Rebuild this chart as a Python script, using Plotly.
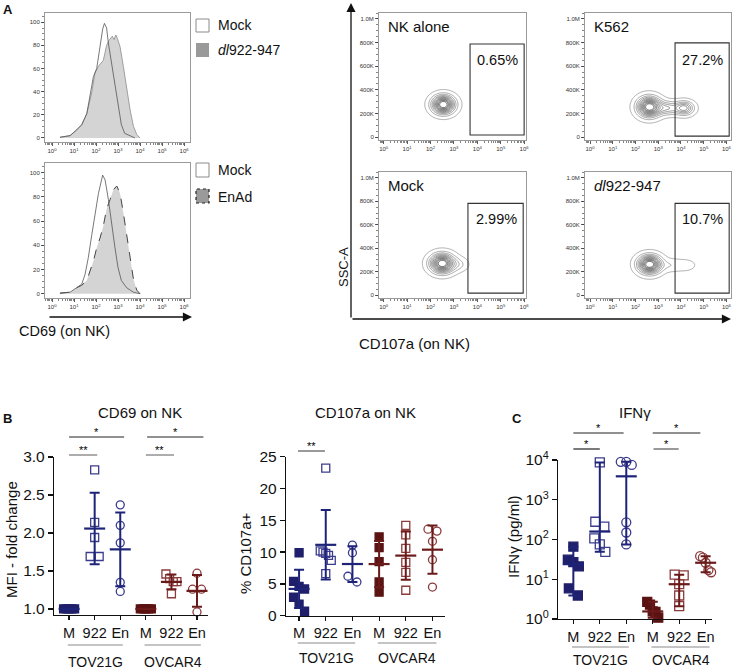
import numpy as np
import plotly.graph_objects as go

W, H = 734, 669
def fx(p): return p / W
def fy(p): return 1 - p / H

FONT = "Arial, Liberation Sans, Helvetica, sans-serif"

# ---------------- DATA ----------------
# Panel A histograms: CD69 intensity (log10 decades) vs % of max
hist1_dl_x = [0.36, 0.82, 1.12, 1.35, 1.58, 1.80, 1.95, 2.11, 2.33, 2.48, 2.58, 2.66, 2.74, 2.82, 2.90, 2.97, 3.09, 3.24, 3.39, 3.55, 3.70, 3.85, 4.00]
hist1_dl_y = [0.6, 2, 7, 11.5, 21, 39, 56, 62, 67, 80, 84, 86, 88, 85, 89, 86, 79, 62, 42, 24, 10, 3, 0]
hist1_mock_x = [0.36, 0.82, 1.12, 1.35, 1.58, 1.73, 1.88, 2.03, 2.18, 2.30, 2.38, 2.48, 2.56, 2.71, 2.86, 3.00, 3.15, 3.30, 3.55, 3.77]
hist1_mock_y = [0.6, 2, 7, 11.5, 21, 36, 53, 60, 80, 94, 99, 95, 82, 64, 44, 27, 11.5, 4, 2, 0]

hist2_en_x = [0.36, 0.82, 1.12, 1.35, 1.58, 1.73, 1.88, 2.03, 2.18, 2.33, 2.48, 2.64, 2.79, 2.94, 3.09, 3.24, 3.39, 3.55, 3.70, 3.85, 4.00]
hist2_en_y = [0.5, 1.3, 5, 7, 11, 19, 27, 38, 46, 56, 70, 78, 86, 89, 83, 67, 48, 27, 12, 3, 0]
hist2_mock_x = [0.36, 0.82, 1.12, 1.35, 1.50, 1.65, 1.80, 1.95, 2.11, 2.30, 2.41, 2.56, 2.71, 2.86, 3.00, 3.15, 3.39, 3.70, 4.00]
hist2_mock_y = [0.5, 1.3, 5, 8, 16, 30, 48, 67, 83, 98, 94, 78, 56, 38, 21.5, 11, 5, 1.3, 0]

# Panel A contour populations: (log10 CD107a centre, SSC-A centre, log10 sd, SSC sd, weight)
blobs_nk = [(2.55, 275e3, 0.30, 48e3, 1.0)]
blobs_k562 = [(2.60, 255e3, 0.32, 52e3, 1.0), (3.40, 245e3, 0.35, 36e3, 0.35), (4.15, 245e3, 0.26, 36e3, 0.5)]
blobs_mock = [(2.50, 270e3, 0.32, 50e3, 1.0), (3.20, 262e3, 0.26, 36e3, 0.12)]
blobs_dl = [(2.62, 262e3, 0.32, 48e3, 1.0), (3.60, 255e3, 0.36, 34e3, 0.10), (4.25, 255e3, 0.26, 30e3, 0.07), (-0.45, 255e3, 0.15, 30e3, 0.08)]
flow_names = ["NK alone", "K562", "Mock", "<i>dl</i>922-947"]
flow_pcts = ["0.65%", "27.2%", "2.99%", "10.7%"]
gate_x0 = [3.69, 3.74, 3.60, 3.74]
gate_x1 = [6.00, 6.12, 5.96, 6.12]
gate_y0 = [17e3, 8e3, 17e3, 17e3]
gate_y1 = [788e3, 797e3, 782e3, 782e3]

# Panel B / C
cats = ["M", "922", "En", "M", "922", "En"]
cell_lines = ["TOV21G", "OVCAR4"]

cd69_tov_M = [1.0, 1.0, 1.0, 1.0, 1.0]
cd69_tov_922 = [2.83, 2.14, 1.94, 1.69, 1.69]
cd69_tov_En = [2.37, 2.10, 1.87, 1.35, 1.23]
cd69_ov_M = [1.0, 1.0, 1.0, 1.0, 1.0]
cd69_ov_922 = [1.46, 1.40, 1.36, 1.36, 1.20]
cd69_ov_En = [1.47, 1.26, 1.26, 0.96]

cd107_tov_M = [9.9, 5.4, 4.6, 4.2, 2.9, 1.8, 0.7]
cd107_tov_922 = [23.2, 10.2, 10.0, 9.8, 9.5, 8.7, 6.6]
cd107_tov_En = [11.1, 9.9, 6.2, 5.3]
cd107_ov_M = [12.4, 10.7, 8.5, 5.3, 3.7]
cd107_ov_922 = [14.2, 12.7, 10.6, 8.4, 6.8, 4.0]
cd107_ov_En = [13.6, 13.3, 11.7, 8.8, 4.5]

ifn_tov_M = [66, 31, 27, 21, 5.9, 3.9]
ifn_tov_922 = [8700, 280, 210, 107, 75, 49]
ifn_tov_En = [9000, 9000, 7500, 270, 150, 75]
ifn_ov_M = [2.7, 2.3, 1.55, 1.5, 1.08]
ifn_ov_922 = [13, 12.5, 7.5, 3.9, 2.1]
ifn_ov_En = [38, 35, 26, 17, 15]

# ---------------- STYLE ----------------
BLUE_F = "#1f1f6b"; BLUE_O = "#3c3c8e"; BLUE_E = "#1d2478"
RED_F = "#5a1212"; RED_O = "#8a3b3b"; RED_E = "#6b1a1a"

fig = go.Figure()
annos = []
shapes = []

def text(x, y, t, size=13, xanchor="center", angle=0, bold=False, color="#111"):
    if bold:
        t = "<b>%s</b>" % t
    annos.append(dict(x=fx(x), y=fy(y), xref="paper", yref="paper", text=t, showarrow=False,
                      xanchor=xanchor, yanchor="middle", textangle=angle,
                      font=dict(size=size, family=FONT, color=color)))

def arrow(hx, hy, tx, ty):
    annos.append(dict(x=fx(hx), y=fy(hy), xref="paper", yref="paper", text="", showarrow=True,
                      ax=tx - hx, ay=ty - hy, arrowhead=2, arrowsize=1.4, arrowwidth=1.3,
                      arrowcolor="#111"))

# ---------------- PANEL A: histograms ----------------
hist_dom_x = [45, 190]
hist_dom_y = [(13, 142), (163, 298)]
dec_ticks = list(range(7))
dec_text = ["10<sup>%d</sup>" % d for d in dec_ticks]
minor_dec = [np.log10(k) + d for d in range(-1, 7) for k in range(2, 10)]
TICK_SMALL = 6

layout_axes = {}
def flow_axes(n, xd, yd, xr, yr, ytv, ytt, yminor):
    sfx = "" if n == 1 else str(n)
    layout_axes["xaxis" + sfx] = dict(domain=[fx(xd[0]), fx(xd[1])], anchor="y" + sfx, range=xr,
        automargin=False,
        tickvals=dec_ticks, ticktext=dec_text, ticks="outside", ticklen=3, tickwidth=0.8,
        tickcolor="#333", tickfont=dict(size=TICK_SMALL, family=FONT, color="#333"),
        showline=True, mirror=True, linecolor="#9a9a9a", linewidth=1, showgrid=False, zeroline=False,
        minor=dict(tickmode="array", tickvals=minor_dec, ticks="outside", ticklen=1.6, tickcolor="#333", tickwidth=0.6))
    layout_axes["yaxis" + sfx] = dict(domain=[fy(yd[1]), fy(yd[0])], anchor="x" + sfx, range=yr,
        automargin=False,
        tickvals=ytv, ticktext=ytt, ticks="outside", ticklen=3, tickwidth=0.8,
        tickcolor="#333", tickfont=dict(size=TICK_SMALL, family=FONT, color="#333"),
        showline=True, mirror=True, linecolor="#9a9a9a", linewidth=1, showgrid=False, zeroline=False,
        minor=dict(dtick=yminor, ticks="outside", ticklen=1.6, tickcolor="#333", tickwidth=0.6))

hy_tv = [0, 20, 40, 60, 80, 100]
flow_axes(1, hist_dom_x, hist_dom_y[0], [-0.32, 6.27], [-3.5, 108], hy_tv, [str(v) for v in hy_tv], 5)
flow_axes(2, hist_dom_x, hist_dom_y[1], [-0.32, 6.27], [-3.5, 108], hy_tv, [str(v) for v in hy_tv], 5)

fig.add_trace(go.Scatter(x=hist1_dl_x, y=hist1_dl_y, mode="lines", fill="tozeroy", fillcolor="#d4d4d4",
                         line=dict(color="#8c8c8c", width=0.8), xaxis="x", yaxis="y", hoverinfo="skip"))
fig.add_trace(go.Scatter(x=hist1_mock_x, y=hist1_mock_y, mode="lines",
                         line=dict(color="#555", width=0.8), xaxis="x", yaxis="y", hoverinfo="skip"))
fig.add_trace(go.Scatter(x=hist2_en_x, y=hist2_en_y, mode="lines", fill="tozeroy", fillcolor="#d4d4d4",
                         line=dict(color="#444", width=1, dash="dash"), xaxis="x2", yaxis="y2", hoverinfo="skip"))
fig.add_trace(go.Scatter(x=hist2_mock_x, y=hist2_mock_y, mode="lines",
                         line=dict(color="#555", width=0.8), xaxis="x2", yaxis="y2", hoverinfo="skip"))

# legend boxes
def sq(x0, y0, x1, y1, fill, line, dash="solid", lw=1):
    shapes.append(dict(type="rect", xref="paper", yref="paper", x0=fx(x0), x1=fx(x1), y0=fy(y1), y1=fy(y0),
                       fillcolor=fill, line=dict(color=line, width=lw, dash=dash)))
sq(196, 19, 209, 32, "white", "#8a8a8a")
sq(196, 43, 209, 57, "#9a9a9a", "#9a9a9a", lw=0)
sq(196, 163, 209, 177, "white", "#8a8a8a")
sq(196, 189, 209, 203, "#9a9a9a", "#222", dash="dot", lw=1.2)
text(216, 25, "Mock", 14, "left")
text(216, 50, "<i>dl</i>922-947", 14, "left")
text(216, 170, "Mock", 14, "left")
text(216, 197, "EnAd", 14, "left")
arrow(192, 317, 48, 317)
text(64, 331, "CD69 (on NK)", 14.5)
text(8, 9, "A", 13, bold=True)

# ---------------- PANEL A: contour plots ----------------
flow_dom = [((379, 526), (13, 140)), ((585, 731), (13, 140)), ((379, 526), (172, 298)), ((585, 731), (172, 298))]
flow_xr = [[-0.2, 6.08], [-0.22, 6.2], [-0.2, 6.08], [-0.22, 6.2]]
cy_tv = [0, 200e3, 400e3, 600e3, 800e3, 1e6]
cy_tt = ["0", "200K", "400K", "600K", "800K", "1.0M"]
gx = np.linspace(-0.22, 6.2, 220)
gy = np.linspace(-25e3, 1.05e6, 220)
GX, GY = np.meshgrid(gx, gy)

def density(blobs):
    z = np.zeros_like(GX)
    for cx, cyy, sx, sy, w in blobs:
        z += w * np.exp(-0.5 * (((GX - cx) / sx) ** 2 + ((GY - cyy) / sy) ** 2))
    return z / z.max()

all_blobs = [blobs_nk, blobs_k562, blobs_mock, blobs_dl]
for k in range(4):
    n = k + 3
    xd, yd = flow_dom[k]
    xr = flow_xr[k]
    flow_axes(n, xd, yd, xr, [-25e3, 1.05e6], cy_tv, cy_tt, 50e3)
    fig.add_trace(go.Contour(x=gx, y=gy, z=density(all_blobs[k]), xaxis="x%d" % n, yaxis="y%d" % n,
                             showscale=False, hoverinfo="skip",
                             contours=dict(coloring="lines", start=0.03, end=0.95, size=0.084),
                             line=dict(width=0.7), colorscale=[[0, "#8a8a8a"], [1, "#262626"]]))
    shapes.append(dict(type="rect", xref="x%d" % n, yref="y%d" % n, x0=gate_x0[k], x1=gate_x1[k],
                       y0=gate_y0[k], y1=gate_y1[k], line=dict(color="#333", width=1.1)))
    top = yd[0]
    text(xd[0] + 7, top + 13, flow_names[k], 15, "left")
    gx_right = xd[0] + (gate_x1[k] - xr[0]) / (xr[1] - xr[0]) * (xd[1] - xd[0])
    text(gx_right - 4, top + 47, flow_pcts[k], 14.5, "right")

arrow(351, 3, 351, 319)
arrow(731, 319, 351, 319)
text(343, 267, "SSC-A", 13, angle=-90)
text(414, 343, "CD107a (on NK)", 15)

# ---------------- PANELS B and C ----------------
def swarm(vals, ppu, log=False, tol=7.5, spread=11.0):
    v = np.log10(vals) if log else np.asarray(vals, float)
    order = list(np.argsort(-v, kind="stable"))
    offs = np.zeros(len(v))
    clusters, cur = [], [order[0]]
    for a, b in zip(order[:-1], order[1:]):
        if (v[a] - v[b]) * ppu < tol:
            cur.append(b)
        else:
            clusters.append(cur); cur = [b]
    clusters.append(cur)
    for c in clusters:
        m = len(c)
        if m > 1:
            step = min(9.0, spread / (m - 1))
            for j, idx in enumerate(c):
                offs[idx] = (j - (m - 1) / 2) * step
    return offs

def dot_panel(n, groups, ppu, ppc, log, stat, msize):
    for i, vals in enumerate(groups):
        v = np.asarray(vals, float)
        blue = i < 3
        kind = i % 3
        sym = ["square", "square-open", "circle-open"][kind]
        mcol = (BLUE_F if blue else RED_F) if kind == 0 else (BLUE_O if blue else RED_O)
        ecol = BLUE_E if blue else RED_E
        offs = swarm(v, ppu, log)
        fig.add_trace(go.Scatter(x=i + offs / ppc, y=v, mode="markers", cliponaxis=False,
                                 marker=dict(symbol=sym, size=msize, color=mcol, line=dict(color=mcol, width=1.3)),
                                 xaxis="x%d" % n, yaxis="y%d" % n, hoverinfo="skip"))
        if stat == "mean":
            c = v.mean(); s = v.std(ddof=1); lo, hi = c - s, c + s
        else:
            c = np.median(v); lo, hi = v.min(), v.max()
        fig.add_trace(go.Scatter(x=[i], y=[c], mode="markers", cliponaxis=False,
                                 marker=dict(symbol="line-ew-open", size=15, color=ecol, line=dict(color=ecol, width=2.2)),
                                 error_y=dict(type="data", symmetric=False, array=[hi - c], arrayminus=[c - lo],
                                              color=ecol, thickness=2, width=5),
                                 xaxis="x%d" % n, yaxis="y%d" % n, hoverinfo="skip"))

def prism_axes(n, xd, yd, xr, yr, ylog=False, ytv=None, ytt=None):
    xtf = dict(size=14.5, family=FONT, color="#111")
    ytf = dict(size=15.5, family=FONT, color="#111")
    layout_axes["xaxis%d" % n] = dict(domain=[fx(xd[0]), fx(xd[1])], anchor="y%d" % n, range=xr,
        automargin=False,
        tickvals=list(range(6)), ticktext=cats, ticks="outside", ticklen=4, tickwidth=1.2,
        tickcolor="#111", tickfont=xtf, showline=True, linecolor="#111", linewidth=1.2,
        showgrid=False, zeroline=False)
    ya = dict(domain=[fy(yd[1]), fy(yd[0])], anchor="x%d" % n, range=yr, ticks="outside", ticklen=5,
              automargin=False,
              tickwidth=1.2, tickcolor="#111", tickfont=ytf, showline=True, linecolor="#111",
              linewidth=1.2, showgrid=False, zeroline=False)
    if ylog:
        ya["type"] = "log"
    if ytv is not None:
        ya["tickvals"] = ytv
        ya["ticktext"] = ytt
    layout_axes["yaxis%d" % n] = ya

def group_lines(n, yline, ylab):
    for g, (a, b) in enumerate([(-0.05, 2.1), (2.95, 5.15)]):
        shapes.append(dict(type="line", xref="x%d" % n, yref="paper", x0=a, x1=b, y0=fy(yline), y1=fy(yline),
                           line=dict(color="#8a8a8a", width=1.2)))
        annos.append(dict(x=(a + b) / 2, y=fy(ylab), xref="x%d" % n, yref="paper", text=cell_lines[g],
                          showarrow=False, xanchor="center", yanchor="middle",
                          font=dict(size=14, family=FONT, color="#111")))

def bracket(n, a, b, yline, star, color="#333"):
    shapes.append(dict(type="line", xref="x%d" % n, yref="paper", x0=a, x1=b, y0=fy(yline), y1=fy(yline),
                       line=dict(color=color, width=1.2)))
    annos.append(dict(x=(a + b) / 2, y=fy(yline - 5), xref="x%d" % n, yref="paper", text=star,
                      showarrow=False, xanchor="center", yanchor="middle",
                      font=dict(size=11, family=FONT, color="#000000")))

# CD69
prism_axes(7, (54, 208), (457, 615), [-0.59, 5.43], [0.92, 3.0], ytv=[1.0, 1.5, 2.0, 2.5, 3.0],
           ytt=["1.0", "1.5", "2.0", "2.5", "3.0"])
dot_panel(7, [cd69_tov_M, cd69_tov_922, cd69_tov_En, cd69_ov_M, cd69_ov_922, cd69_ov_En], 76.0, 25.6, False, "mean", 8)
group_lines(7, 645, 662)
bracket(7, 0.0, 2.15, 437, "*", "#222")
bracket(7, 0.0, 1.1, 455, "**", "#777")
bracket(7, 3.05, 5.25, 437, "*", "#222")
bracket(7, 3.0, 4.1, 455, "**", "#777")
text(140, 412, "CD69 on NK", 15)
text(11, 540, "MFI - fold change", 15, angle=-90)
text(7, 418, "B", 13, bold=True)

# CD107a
prism_axes(8, (286, 445), (456.7, 615.7), [-0.49, 5.47], [0, 25], ytv=[0, 5, 10, 15, 20, 25],
           ytt=["0", "5", "10", "15", "20", "25"])
dot_panel(8, [cd107_tov_M, cd107_tov_922, cd107_tov_En, cd107_ov_M, cd107_ov_922, cd107_ov_En], 6.36, 26.7, False, "mean", 8)
group_lines(8, 643, 658)
bracket(8, -0.04, 0.97, 451, "**", "#555")
text(365, 412, "CD107a on NK", 15)
text(245, 553, "% CD107a+", 15, angle=-90)

# IFN-gamma
prism_axes(9, (558, 712), (460, 619), [-0.58, 5.24], [0, 4], ylog=True, ytv=[1, 10, 100, 1000, 10000],
           ytt=["10<sup>0</sup>", "10<sup>1</sup>", "10<sup>2</sup>", "10<sup>3</sup>", "10<sup>4</sup>"])
dot_panel(9, [ifn_tov_M, ifn_tov_922, ifn_tov_En, ifn_ov_M, ifn_ov_922, ifn_ov_En], 39.75, 26.5, True, "median", 9)
group_lines(9, 647, 660)
bracket(9, 0.0, 1.9, 433, "*", "#222")
bracket(9, 0.0, 1.0, 449, "*", "#222")
bracket(9, 3.0, 4.8, 433, "*", "#222")
bracket(9, 3.03, 3.98, 449, "*", "#555")
text(635, 412, "IFNγ", 15)
text(513, 537, "IFNγ (pg/ml)", 15, angle=-90)
text(517, 418, "C", 13, bold=True)

fig.update_layout(width=W, height=H, margin=dict(l=0, r=0, t=0, b=0, autoexpand=False), paper_bgcolor="white",
                  plot_bgcolor="white", showlegend=False, annotations=annos, shapes=shapes,
                  font=dict(family=FONT), **layout_axes)
fig.write_html("out.html", config={"displayModeBar": False, "staticPlot": True},
               post_script="document.body.style.margin='0px';document.body.style.padding='0px';")
